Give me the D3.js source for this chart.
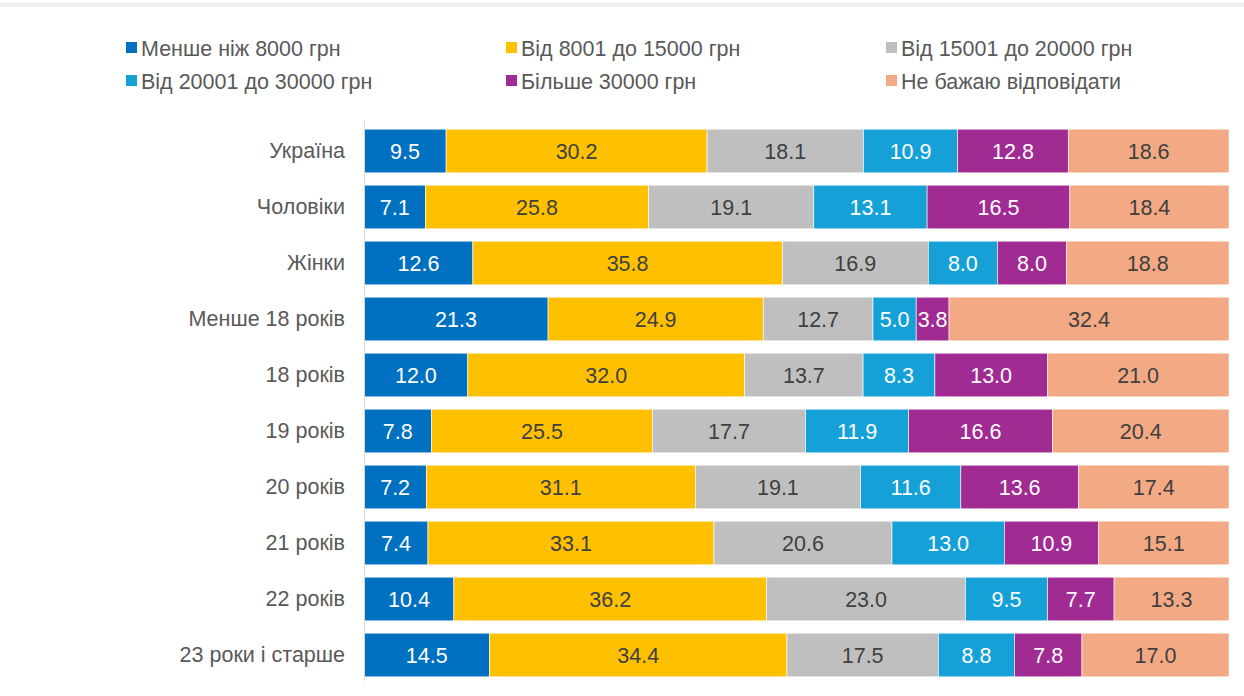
<!DOCTYPE html>
<html>
<head>
<meta charset="utf-8">
<style>
  body { margin: 0; background: #fff; }
  svg { display: block; font-family: "Liberation Sans", Arial, sans-serif; }
</style>
</head>
<body>
<div class="container"></div>
<script src="https://d3js.org/d3.v7.min.js"></script>
<script>
  // categories (rows, top to bottom)
  var categories = ['Україна', 'Чоловіки', 'Жінки', 'Менше 18 років', '18 років',
                    '19 років', '20 років', '21 років', '22 років', '23 роки і старше'];

  var seriesNames = ['Менше ніж 8000 грн', 'Від 8001 до 15000 грн', 'Від 15001 до 20000 грн',
                     'Від 20001 до 30000 грн', 'Більше 30000 грн', 'Не бажаю відповідати'];

  var below8000   = [9.5, 7.1, 12.6, 21.3, 12.0, 7.8, 7.2, 7.4, 10.4, 14.5];
  var from8001    = [30.2, 25.8, 35.8, 24.9, 32.0, 25.5, 31.1, 33.1, 36.2, 34.4];
  var from15001   = [18.1, 19.1, 16.9, 12.7, 13.7, 17.7, 19.1, 20.6, 23.0, 17.5];
  var from20001   = [10.9, 13.1, 8.0, 5.0, 8.3, 11.9, 11.6, 13.0, 9.5, 8.8];
  var above30000  = [12.8, 16.5, 8.0, 3.8, 13.0, 16.6, 13.6, 10.9, 7.7, 7.8];
  var noAnswer    = [18.6, 18.4, 18.8, 32.4, 21.0, 20.4, 17.4, 15.1, 13.3, 17.0];

  var seriesValues = [below8000, from8001, from15001, from20001, above30000, noAnswer];
  var colors = ['#0070C0', '#FFC000', '#BFBFBF', '#15A1D8', '#A02B93', '#F2A984'];
  var labelColors = ['#fff', '#404040', '#404040', '#fff', '#fff', '#404040'];

  var width = 1244, height = 696;
  var margin = { left: 364, right: 15, top: 123, bottom: 13 };
  var fontSize = 21.5;

  var svg = d3.select('.container').append('svg')
      .attr('width', width)
      .attr('height', height);

  // thin grey strip at the very top
  svg.append('rect')
      .attr('x', 0).attr('y', 3)
      .attr('width', width).attr('height', 4)
      .attr('fill', '#efefef');

  // build rows: each row normalised to 100%
  var rows = categories.map(function(c, i) {
    var total = d3.sum(seriesValues, function(s) { return s[i]; });
    var acc = 0;
    return seriesValues.map(function(s, k) {
      var seg = { cat: c, k: k, value: s[i], x0: acc / total * 100 };
      acc += s[i];
      seg.x1 = acc / total * 100;
      return seg;
    });
  });

  var x = d3.scaleLinear()
      .domain([0, 100])
      .range([margin.left, width - margin.right]);

  var y = d3.scaleBand()
      .domain(categories)
      .range([margin.top, height - margin.bottom])
      .paddingInner(0.22)
      .paddingOuter(0.11);

  // bars
  var rowG = svg.append('g').selectAll('g')
      .data(rows)
      .join('g');

  rowG.selectAll('rect')
      .data(function(d) { return d; })
      .join('rect')
      .attr('x', function(d) { return x(d.x0); })
      .attr('y', function(d) { return y(d.cat); })
      .attr('width', function(d) { return x(d.x1) - x(d.x0); })
      .attr('height', y.bandwidth())
      .attr('fill', function(d) { return colors[d.k]; })
      .attr('stroke', '#fff')
      .attr('stroke-width', 0.6);

  rowG.selectAll('text')
      .data(function(d) { return d; })
      .join('text')
      .attr('x', function(d) { return (x(d.x0) + x(d.x1)) / 2; })
      .attr('y', function(d) { return y(d.cat) + y.bandwidth() / 2; })
      .attr('dy', '0.36em')
      .attr('text-anchor', 'middle')
      .attr('font-size', fontSize)
      .attr('fill', function(d) { return labelColors[d.k]; })
      .text(function(d) { return d.value.toFixed(1); });

  // category axis
  var yAxis = svg.append('g')
      .attr('transform', 'translate(' + margin.left + ',0)')
      .call(d3.axisLeft(y).tickSize(0).tickPadding(19));
  yAxis.select('.domain')
      .attr('stroke', '#d9d9d9')
      .attr('d', 'M0.5,' + (margin.top - 2) + 'V' + (height - margin.bottom - 2));
  yAxis.selectAll('text')
      .attr('font-size', fontSize)
      .attr('font-family', '"Liberation Sans", Arial, sans-serif')
      .attr('fill', '#595959');

  // legend
  var legend = svg.append('g').selectAll('g')
      .data(seriesNames)
      .join('g')
      .attr('transform', function(d, i) {
        return 'translate(' + (126 + (i % 3) * 380) + ',' + (48 + Math.floor(i / 3) * 33) + ')';
      });
  legend.append('rect')
      .attr('x', 0).attr('y', -6)
      .attr('width', 11).attr('height', 11)
      .attr('fill', function(d, i) { return colors[i]; });
  legend.append('text')
      .attr('x', 15)
      .attr('dy', '0.36em')
      .attr('font-size', fontSize)
      .attr('fill', '#595959')
      .text(function(d) { return d; });
</script>
</body>
</html>
